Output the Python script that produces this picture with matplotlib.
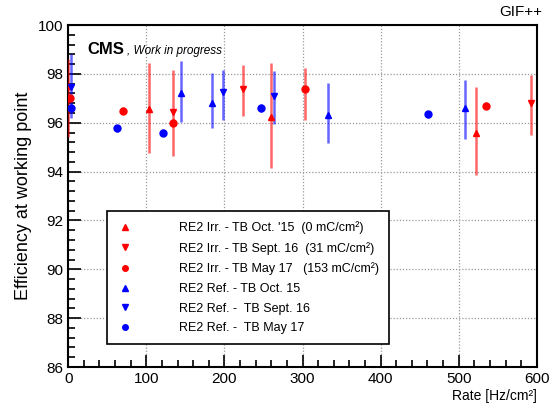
import numpy as np
import matplotlib
matplotlib.use("Agg")
import matplotlib.pyplot as plt
from matplotlib.ticker import MultipleLocator

plt.rcParams['font.family'] = ['Liberation Sans', 'DejaVu Sans']

# RE2 irradiated chamber
irr_oct15_x = [0, 104, 260, 522]
irr_oct15_y = [97.5, 96.55, 96.25, 95.6]
irr_oct15_lo = [2.1, 1.8, 2.1, 1.75]
irr_oct15_hi = [1.1, 1.9, 2.2, 1.85]

irr_sep16_x = [134, 224, 592]
irr_sep16_y = [96.45, 97.38, 96.8]
irr_sep16_lo = [1.8, 1.1, 1.3]
irr_sep16_hi = [1.7, 1.0, 1.15]

irr_may17_x = [2, 70, 134, 303, 535]
irr_may17_y = [97.0, 96.5, 96.0, 97.38, 96.7]
irr_may17_lo = [0.15, 0.15, 0.15, 1.25, 0.15]
irr_may17_hi = [0.15, 0.15, 0.15, 0.85, 0.15]

# RE2 reference chamber
ref_oct15_x = [145, 184, 333, 508]
ref_oct15_y = [97.23, 96.82, 96.32, 96.62]
ref_oct15_lo = [1.2, 1.05, 1.15, 1.3]
ref_oct15_hi = [1.3, 1.2, 1.3, 1.15]

ref_sep16_x = [3, 198, 264]
ref_sep16_y = [97.45, 97.27, 97.1]
ref_sep16_lo = [1.25, 1.15, 1.15]
ref_sep16_hi = [1.35, 0.9, 1.0]

ref_may17_x = [3, 63, 122, 247, 461]
ref_may17_y = [96.62, 95.77, 95.6, 96.61, 96.34]
ref_may17_err = [0.15, 0.15, 0.15, 0.15, 0.15]

labels = [
    "RE2 Irr. - TB Oct. '15  (0 mC/cm²)",
    "RE2 Irr. - TB Sept. 16  (31 mC/cm²)",
    "RE2 Irr. - TB May 17   (153 mC/cm²)",
    "RE2 Ref. - TB Oct. 15",
    "RE2 Ref. -  TB Sept. 16",
    "RE2 Ref. -  TB May 17",
]

red = '#ff0000'
blue = '#0000ff'

fig = plt.figure(figsize=(5.5, 4.11), dpi=100)
ax = fig.add_axes([0.124, 0.107, 0.852, 0.832])

series = [
    (irr_oct15_x, irr_oct15_y, [irr_oct15_lo, irr_oct15_hi], red, '^'),
    (irr_sep16_x, irr_sep16_y, [irr_sep16_lo, irr_sep16_hi], red, 'v'),
    (irr_may17_x, irr_may17_y, [irr_may17_lo, irr_may17_hi], red, 'o'),
    (ref_oct15_x, ref_oct15_y, [ref_oct15_lo, ref_oct15_hi], blue, '^'),
    (ref_sep16_x, ref_sep16_y, [ref_sep16_lo, ref_sep16_hi], blue, 'v'),
    (ref_may17_x, ref_may17_y, ref_may17_err, blue, 'o'),
]
handles = []
for (x, y, err, c, m), lab in zip(series, labels):
    ax.errorbar(x, y, yerr=err, fmt='none', ecolor=c, elinewidth=1.8,
                capsize=0, alpha=0.6, zorder=3)
    h = ax.plot(x, y, linestyle='none', marker=m, color=c, markersize=5,
                zorder=4)[0]
    handles.append(h)

ax.set_xlim(0, 600)
ax.set_ylim(86, 100)
ax.xaxis.set_major_locator(MultipleLocator(100))
ax.xaxis.set_minor_locator(MultipleLocator(20))
ax.yaxis.set_major_locator(MultipleLocator(2))
ax.yaxis.set_minor_locator(MultipleLocator(0.4))
ax.tick_params(which='both', direction='in', top=False, right=False,
               labelsize=11, width=1.2)
ax.tick_params(which='major', length=9)
ax.tick_params(which='minor', length=5)
ax.grid(True, which='major', color='#999999', linestyle=(0, (1, 1.5)),
        linewidth=0.9)
for s in ax.spines.values():
    s.set_linewidth(1.5)

ax.set_ylabel('Efficiency at working point', fontsize=13)
ax.set_xlabel('Rate [Hz/cm²]', fontsize=10)
ax.xaxis.set_label_coords(1.0, -0.065)
ax.xaxis.label.set_horizontalalignment('right')
ax.xaxis.label.set_verticalalignment('top')

ax.text(0.04, 0.93, 'CMS', transform=ax.transAxes, fontsize=12,
        fontweight='bold', va='center')
ax.text(0.125, 0.925, ', Work in progress', transform=ax.transAxes,
        fontsize=8.5, style='italic', va='center')
fig.text(0.985, 0.97, 'GIF++', fontsize=11, ha='right', va='center')

leg = ax.legend(handles, labels, loc='upper left',
                bbox_to_anchor=(0.07, 0.474), fontsize=9, frameon=True,
                fancybox=False, edgecolor='black', handlelength=1.2,
                handletextpad=3.7, borderpad=0.8, labelspacing=0.62,
                markerscale=0.8, framealpha=1)
leg.get_frame().set_linewidth(1.2)

fig.savefig('out.png', dpi=100)
